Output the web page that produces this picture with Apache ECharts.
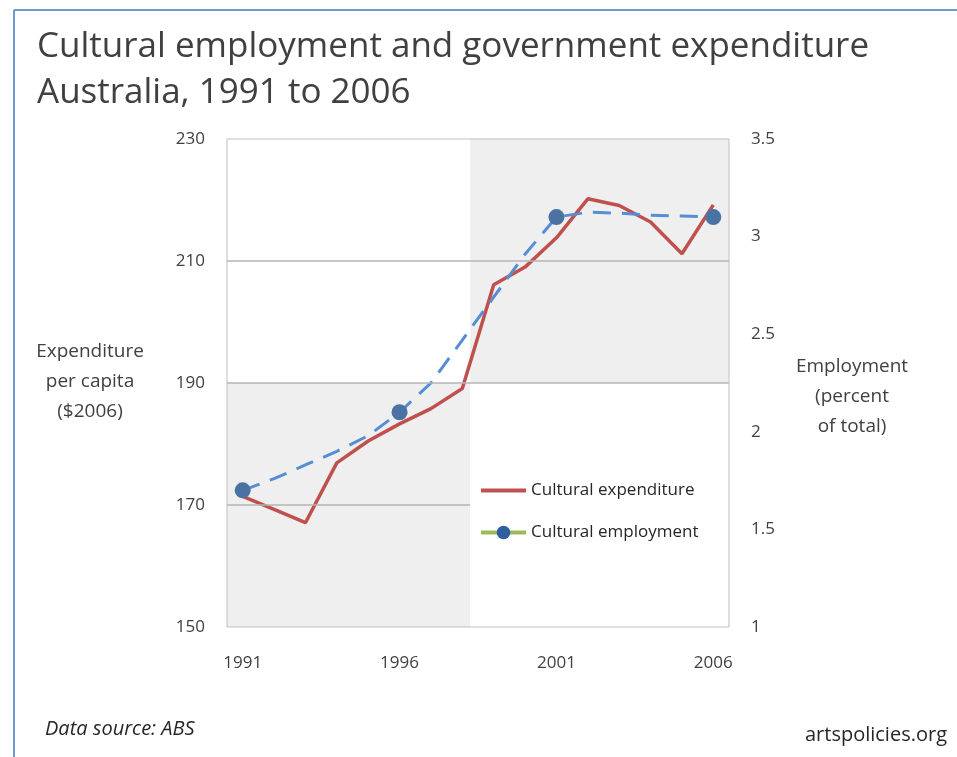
<!DOCTYPE html>
<html>
<head>
<meta charset="utf-8">
<title>Cultural employment and government expenditure</title>
<script src="https://cdn.jsdelivr.net/npm/echarts@6/dist/echarts.min.js"></script>
<style>
  html, body { margin: 0; padding: 0; background: #ffffff; }
  #chart { width: 957px; height: 757px; }
</style>
</head>
<body>
<div id="chart"></div>
<script>
// Years on the horizontal axis
const years = ['1991', '1992', '1993', '1994', '1995', '1996', '1997', '1998',
               '1999', '2000', '2001', '2002', '2003', '2004', '2005', '2006'];

// Government cultural expenditure per capita ($2006), left axis
const expenditure = [171.4, 169.3, 167.1, 176.9, 180.5, 183.3, 185.8, 189.1,
                     206.1, 209.0, 213.8, 220.2, 219.1, 216.4, 211.2, 219.2];

// Cultural employment, percent of total — census years (markers)
const employmentCensus = [1.70, null, null, null, null, 2.10, null, null,
                          null, null, 3.10, null, null, null, null, 3.10];

// Cultural employment, annual estimates (dashed line)
const employmentAnnual = [1.70, 1.76, 1.83, 1.90, 1.98, 2.10, 2.25, 2.47,
                          2.69, 2.91, 3.10, 3.125, 3.12, 3.11, 3.105, 3.10];

// Axis tick values
const expenditureTicks = [150, 170, 190, 210, 230];
const employmentTicks = [1, 1.5, 2, 2.5, 3, 3.5];

// Background bands: split year and the expenditure level dividing them
const bandSplitYear = 1998.25;
const bandLevel = 190;
const yearSpan = [1990.5, 2006.5];

const FONT = '"Open Sans", Lato, sans-serif';
const TEXT = '#404040';
const yMin = expenditureTicks[0];
const yMax = expenditureTicks[expenditureTicks.length - 1];

const chart = echarts.init(document.getElementById('chart'), null, { renderer: 'canvas' });

const option = {
  backgroundColor: '#ffffff',
  animation: false,
  textStyle: { fontFamily: FONT },
  title: {
    text: 'Cultural employment and government expenditure\nAustralia, 1991 to 2006',
    left: 32,
    top: 19,
    textStyle: { fontFamily: FONT, fontSize: 35, fontWeight: 'normal', color: TEXT, lineHeight: 46 }
  },
  grid: {
    left: 227, top: 139, right: 228, bottom: 130,
    show: true, z: 10,
    borderColor: '#bfbfbf', borderWidth: 1, backgroundColor: 'transparent'
  },
  legend: {
    orient: 'vertical',
    left: 479, top: 482, padding: 0,
    itemWidth: 45, itemHeight: 17, itemGap: 25,
    textStyle: { fontFamily: FONT, fontSize: 17, color: '#262626' },
    data: [
      { name: 'Cultural expenditure', itemStyle: { opacity: 0 },
        lineStyle: { color: '#c0504d', width: 4, opacity: 1 } },
      { name: 'Cultural employment', itemStyle: { color: '#2f5f9e', opacity: 1 },
        lineStyle: { color: '#9bbb59', width: 4, opacity: 1, type: 'solid' } }
    ]
  },
  xAxis: [
    {
      type: 'category', data: years, boundaryGap: true,
      axisLine: { show: false }, axisTick: { show: false },
      axisLabel: { interval: 4, margin: 28, fontSize: 17, color: TEXT, fontFamily: FONT },
      splitLine: { show: false }
    },
    { type: 'value', min: yearSpan[0], max: yearSpan[1], show: false }
  ],
  yAxis: [
    {
      type: 'value', min: yMin, max: yMax, interval: 20,
      axisLine: { show: false }, axisTick: { show: false }, splitLine: { show: false },
      axisLabel: { margin: 22, fontSize: 17, color: TEXT, fontFamily: FONT }
    },
    {
      type: 'value', position: 'right',
      min: employmentTicks[0], max: employmentTicks[employmentTicks.length - 1], interval: 0.5,
      axisLine: { show: false }, axisTick: { show: false }, splitLine: { show: false },
      axisLabel: { margin: 22, fontSize: 17, color: TEXT, fontFamily: FONT }
    }
  ],
  series: [
    {
      // shaded bands behind the data
      name: 'bands', type: 'line', xAxisIndex: 1, yAxisIndex: 0, data: [], z: 0,
      silent: true,
      markArea: {
        silent: true,
        data: [
          [{ coord: [yearSpan[0], yMin], itemStyle: { color: '#efefef' } }, { coord: [bandSplitYear, bandLevel] }],
          [{ coord: [bandSplitYear, bandLevel], itemStyle: { color: '#efefef' } }, { coord: [yearSpan[1], yMax] }],
          [{ coord: [bandSplitYear, yMin], itemStyle: { color: '#ffffff' } }, { coord: [yearSpan[1], bandLevel] }]
        ]
      }
    },
    {
      // horizontal gridlines
      name: 'gridlines', type: 'line', xAxisIndex: 1, yAxisIndex: 0, data: [], z: 1,
      silent: true,
      markLine: {
        silent: true, symbol: 'none', label: { show: false },
        lineStyle: { color: '#b4b4b4', width: 1.5, type: 'solid' },
        data: [
          [{ coord: [yearSpan[0], expenditureTicks[3]] }, { coord: [yearSpan[1], expenditureTicks[3]] }],
          [{ coord: [yearSpan[0], expenditureTicks[2]] }, { coord: [yearSpan[1], expenditureTicks[2]] }],
          [{ coord: [yearSpan[0], expenditureTicks[1]] }, { coord: [bandSplitYear, expenditureTicks[1]] }]
        ]
      }
    },
    {
      name: 'Cultural expenditure', type: 'line', xAxisIndex: 0, yAxisIndex: 0,
      data: expenditure, symbol: 'none', z: 3,
      lineStyle: { color: '#c0504d', width: 3.5 },
      itemStyle: { color: '#c0504d' }
    },
    {
      name: 'employment-annual', type: 'line', xAxisIndex: 0, yAxisIndex: 1,
      data: employmentAnnual, symbol: 'none', z: 4,
      lineStyle: { color: '#558ed5', width: 3, type: [18, 11] }
    },
    {
      name: 'Cultural employment', type: 'line', xAxisIndex: 0, yAxisIndex: 1,
      data: employmentCensus, connectNulls: false, z: 5,
      symbol: 'circle', symbolSize: 16, showSymbol: true,
      lineStyle: { opacity: 0 },
      itemStyle: { color: '#4a72a3' }
    }
  ],
  graphic: [
    { type: 'line', shape: { x1: 14, y1: 10, x2: 957, y2: 10 }, style: { stroke: '#6e9ad3', lineWidth: 2 } },
    { type: 'line', shape: { x1: 14, y1: 10, x2: 14, y2: 757 }, style: { stroke: '#6e9ad3', lineWidth: 2 } },
    {
      type: 'text', x: 90, y: 337,
      style: { text: 'Expenditure\nper capita\n($2006)', font: '19px ' + FONT, fill: TEXT, align: 'center', lineHeight: 30 }
    },
    {
      type: 'text', x: 852, y: 352,
      style: { text: 'Employment\n(percent\nof total)', font: '19px ' + FONT, fill: TEXT, align: 'center', lineHeight: 30 }
    },
    {
      type: 'text', x: 45, y: 719,
      style: { text: 'Data source: ABS', font: 'italic 20px ' + FONT, fill: '#262626' }
    },
    {
      type: 'text', x: 947, y: 725,
      style: { text: 'artspolicies.org', font: '20px ' + FONT, fill: '#262626', align: 'right' }
    }
  ]
};

chart.setOption(option);
</script>
</body>
</html>
